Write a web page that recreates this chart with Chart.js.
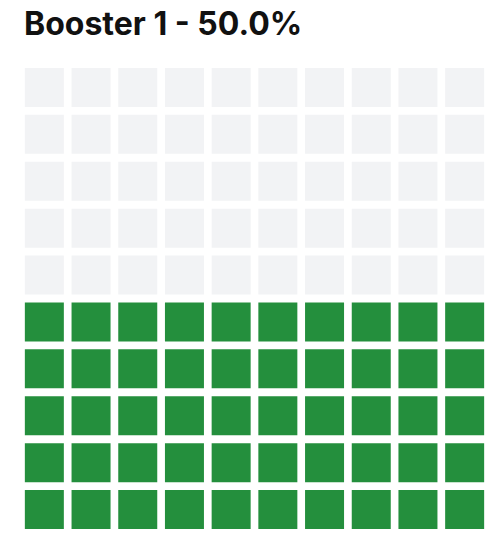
<!DOCTYPE html>
<html>
<head>
<meta charset="utf-8">
<script src="https://cdn.jsdelivr.net/npm/chart.js"></script>
<style>
    html, body { margin: 0; padding: 0; background: #fff; }
    #wrap { position: relative; width: 488px; height: 541px; }
    #title {
        position: absolute; left: 24px; top: 4px;
        font-family: Inter, "Noto Sans", sans-serif;
        font-weight: 700; font-size: 32px; color: #111;
        white-space: nowrap;
    }
    #chart { position: absolute; left: 0; top: 0; }
</style>
</head>
<body>
<div id="wrap">
    <div id="title">Booster 1 - 50.0%</div>
    <canvas id="chart" width="488" height="541"></canvas>
</div>
<script>
    // waffle data
    const label = 'Booster 1';
    const percent = 50.0;
    const gridCols = [0, 1, 2, 3, 4, 5, 6, 7, 8, 9];
    const gridRows = [0, 1, 2, 3, 4, 5, 6, 7, 8, 9];
    const filledColor = '#248f3d';
    const emptyColor = '#f2f3f5';

    document.getElementById('title').textContent = label + ' - ' + percent.toFixed(1) + '%';

    // cells fill from the bottom row up (row 0 = bottom)
    const filledCount = Math.round(percent);
    const filled = [];
    const empty = [];
    gridRows.forEach(r => {
        gridCols.forEach(c => {
            const idx = r * gridCols.length + c;
            (idx < filledCount ? filled : empty).push({ x: c, y: r });
        });
    });

    const side = 39;
    const radius = side / Math.SQRT2;

    new Chart(document.getElementById('chart'), {
        type: 'scatter',
        data: {
            datasets: [
                { label: 'filled', data: filled, backgroundColor: filledColor },
                { label: 'empty', data: empty, backgroundColor: emptyColor }
            ]
        },
        options: {
            responsive: false,
            animation: false,
            events: [],
            layout: { autoPadding: false, padding: { left: 21, right: 0, top: 64, bottom: 8 } },
            elements: {
                point: { pointStyle: 'rect', radius: radius, hoverRadius: radius, borderWidth: 0 }
            },
            scales: {
                x: { display: false, min: -0.5, max: 9.5 },
                y: { display: false, min: -0.5, max: 9.5 }
            },
            plugins: {
                legend: { display: false },
                tooltip: { enabled: false }
            }
        }
    });
</script>
</body>
</html>
